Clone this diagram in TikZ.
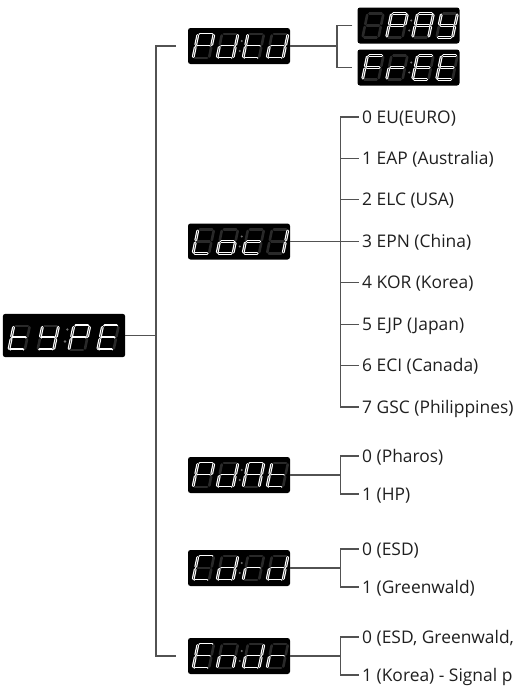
\documentclass[tikz,border=0pt]{standalone}
\usepackage{fontspec}
\setmainfont{Open Sans}
% segment paths of one slanted 7-segment digit (origin = bottom-left, y grows downward)
\def\spa{(6.9,-24)--(19.1,-24)}
\def\spb{(20.7,-22.6)--(18.8,-13.4)}
\def\spc{(18.2,-10.6)--(16.3,-1.4)}
\def\spd{(1.9,0)--(14.1,0)}
\def\spe{(2.2,-10.6)--(0.3,-1.4)}
\def\spf{(4.7,-22.6)--(2.8,-13.4)}
\def\spg{(4.4,-12)--(16.6,-12)}
\def\spz{}
\newcommand\sevseg[7]{%
  \node[dispbox, minimum width=#3*102pt, minimum height=#3*36pt] (#1) at (#2) {};
  \begin{scope}[shift={(#1.center)}, scale=#3]
    \pic at (-46,12) {digit={#4}};
    \pic at (-22,12) {digit={#5}};
    \pic at (4,12) {digit={#6}};
    \pic at (28,12) {digit={#7}};
    \fill[colondot] (0.8,5) circle (1.1) (2.8,-5) circle (1.1);
  \end{scope}}
\begin{document}
\begin{tikzpicture}[x=1pt,y=-1pt,
  conn/.style={draw=black!68, line width=1.1pt},
  dispbox/.style={fill=black, rounded corners=2.5pt, inner sep=0pt, draw=none},
  lit/.style={draw=white, line width=1.2pt, double=black, double distance=0.45pt, line cap=round},
  unlit/.style={draw=black!84, line width=2.6pt, line cap=round},
  colondot/.style={fill=black!55},
  lbl/.style={anchor=base west, inner sep=0pt, font=\fontsize{17.4}{20}\selectfont, text=black!88},
  pics/digit/.style={code={
     \foreach \s in {a,b,c,d,e,f,g}{\edef\segpath{\csname sp\s\endcsname}\draw[unlit] \segpath;}
     \foreach \s in {#1}{\edef\segpath{\csname sp\s\endcsname}\draw[lit] \segpath;}
  }}
]
\useasboundingbox (0,0) rectangle (520,691);
\clip (0,0) rectangle (520,691);

% displays
\sevseg{type}{64,335.5}{1.2}{d,e,f,g}{b,c,d,f,g}{a,b,e,f,g}{a,d,e,f,g}
\sevseg{pdtd}{239,46}{1}{a,b,e,f,g}{b,c,d,e,g}{d,e,f,g}{b,c,d,e,g}
\sevseg{pay}{408.5,25.5}{1}{z}{a,b,e,f,g}{a,b,c,e,f,g}{b,c,d,f,g}
\sevseg{free}{408.5,67.5}{1}{a,e,f,g}{e,g}{a,d,e,f,g}{a,d,e,f,g}
\sevseg{loc}{239,241.5}{1}{d,e,f}{c,d,e,g}{d,e,g}{b,c}
\sevseg{pdat}{239,475}{1}{a,b,e,f,g}{b,c,d,e,g}{a,b,c,e,f,g}{d,e,f,g}
\sevseg{cdrd}{239,568}{1}{a,d,e,f}{b,c,d,e,g}{e,g}{b,c,d,e,g}
\sevseg{endr}{239,656}{1}{a,d,e,f,g}{c,e,g}{b,c,d,e,g}{e,g}

% bus coordinates
\coordinate (bus) at (156,0);
\coordinate (b2) at (337,0);
\coordinate (b3) at (340.5,0);

% main bracket
\draw[conn] (type.east) -- (type.east -| bus);
\draw[conn] ([xshift=-12pt]pdtd.west) -- (pdtd.west -| bus) -- (endr.west -| bus) -- ([xshift=-12pt]endr.west);

% PdtD -> PAY / FrEE
\draw[conn] (pdtd.east) -- (pdtd.east -| b2);
\draw[conn] ([xshift=-5pt]pay.west) -- (pay.west -| b2) -- (free.west -| b2) -- ([xshift=-5pt]free.west);

% Loc1 list
\node[lbl] (l0) at (362,123) {0 EU(EURO)};
\node[lbl] (l1) at (362,164.4) {1 EAP (Australia)};
\node[lbl] (l2) at (362,205.9) {2 ELC (USA)};
\node[lbl] (l3) at (362,247.3) {3 EPN (China)};
\node[lbl] (l4) at (362,288.7) {4 KOR (Korea)};
\node[lbl] (l5) at (362,330.1) {5 EJP (Japan)};
\node[lbl] (l6) at (362,371.6) {6 ECI (Canada)};
\node[lbl] (l7) at (362,413) {7 GSC (Philippines)};
\foreach \i in {0,...,7}{\coordinate (e\i) at ([shift={(-3.5pt,6pt)}]l\i.base west);}
\draw[conn] (loc.east) -- (loc.east -| b3);
\draw[conn] (e0) -- (e0 -| b3) -- (e7 -| b3) -- (e7);
\foreach \i in {1,...,6}{\draw[conn] (e\i -| b3) -- (e\i);}

% PdAt list
\node[lbl] (p0) at (362,462) {0 (Pharos)};
\node[lbl] (p1) at (362,500) {1 (HP)};
\coordinate (pe0) at ([shift={(-3.5pt,6pt)}]p0.base west);
\coordinate (pe1) at ([shift={(-3.5pt,6pt)}]p1.base west);
\draw[conn] (pdat.east) -- (pdat.east -| b3);
\draw[conn] (pe0) -- (pe0 -| b3) -- (pe1 -| b3) -- (pe1);

% CdrD list
\node[lbl] (c0) at (362,555) {0 (ESD)};
\node[lbl] (c1) at (362,593) {1 (Greenwald)};
\coordinate (ce0) at ([shift={(-3.5pt,6pt)}]c0.base west);
\coordinate (ce1) at ([shift={(-3.5pt,6pt)}]c1.base west);
\draw[conn] (cdrd.east) -- (cdrd.east -| b3);
\draw[conn] (ce0) -- (ce0 -| b3) -- (ce1 -| b3) -- (ce1);

% EndR list
\node[lbl] (n0) at (362,643) {0 (ESD, Greenwald,};
\node[lbl] (n1) at (362,681) {1 (Korea) - Signal p};
\coordinate (ne0) at ([shift={(-3.5pt,6pt)}]n0.base west);
\coordinate (ne1) at ([shift={(-3.5pt,6pt)}]n1.base west);
\draw[conn] (endr.east) -- (endr.east -| b3);
\draw[conn] (ne0) -- (ne0 -| b3) -- (ne1 -| b3) -- (ne1);
\end{tikzpicture}
\end{document}
